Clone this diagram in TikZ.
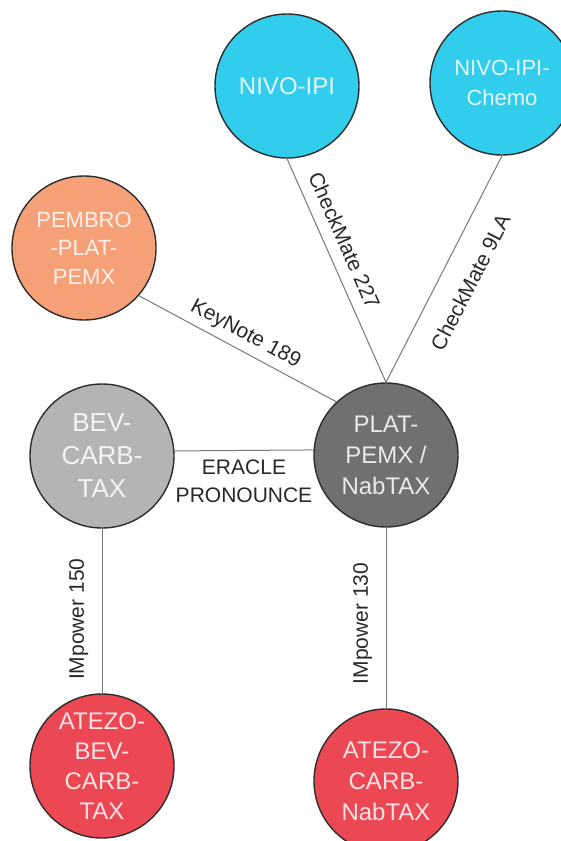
\documentclass[tikz,border=0pt]{standalone}
\usepackage{fontspec}
\setmainfont{Liberation Sans}

\definecolor{nivoblue}{RGB}{50,204,236}
\definecolor{pembroorange}{RGB}{246,160,120}
\definecolor{bevgray}{RGB}{180,180,180}
\definecolor{platgray}{RGB}{112,112,112}
\definecolor{atezored}{RGB}{236,72,84}
\definecolor{edgegray}{RGB}{120,120,120}
\definecolor{rim}{RGB}{45,45,45}
\definecolor{labeltext}{RGB}{40,40,40}

\begin{document}
\begin{tikzpicture}[x=1pt, y=-1pt,
  drug/.style={circle, draw=rim, line width=1.4pt, minimum size=144pt, inner sep=0pt,
    align=center, text=white, text opacity=0.85, font=\fontsize{24}{31}\selectfont},
  trial/.style={draw=edgegray, line width=1pt},
  triallabel/.style={text=labeltext, font=\fontsize{21}{28}\selectfont}]
\useasboundingbox (0,0) rectangle (561,841);

% the regimens
  \node[drug, fill=nivoblue] (nivo) at (287,86) {NIVO-IPI};
  \node[drug, fill=nivoblue, font=\fontsize{22}{30}\selectfont] (nivochemo) at (502,83) {NIVO-IPI-\\Chemo};
  \node[drug, fill=pembroorange, font=\fontsize{22}{28.5}\selectfont] (pembro) at (84,248) {PEMBRO\\-PLAT-\\PEMX};
  \node[drug, fill=bevgray, font=\fontsize{26}{33}\selectfont] (bev) at (102,456) {BEV-\\CARB-\\TAX};
  \node[drug, fill=platgray] (plat) at (386,455) {PLAT-\\PEMX /\\NabTAX};
  \node[drug, fill=atezored, font=\fontsize{24}{30}\selectfont] (atezobev) at (102,766) {ATEZO-\\BEV-\\CARB-\\TAX};
  \node[drug, fill=atezored] (atezocarb) at (386,781) {ATEZO-\\CARB-\\NabTAX};

% the trials
  \draw[trial] (nivo.south) -- node[triallabel, pos=0.4, sloped, above=8pt] {CheckMate 227} (plat.north);
  \draw[trial] (nivochemo.south) -- node[triallabel, pos=0.5, sloped, below=18pt] {CheckMate 9LA} (plat.north);
  \draw[trial] (pembro.-41) -- node[triallabel, pos=0.5, sloped, above=3pt] {KeyNote 189} (plat.133);
  \draw[trial] (bev.4) -- node[triallabel, below=6pt, align=center] {ERACLE\\PRONOUNCE} (plat.176);

  \draw[trial] (bev.south) -- node[triallabel, pos=0.55, rotate=90, above=10pt] {IMpower 150} (atezobev.north);
  \draw[trial] (plat.south) -- node[triallabel, pos=0.53, rotate=90, above=10pt] {IMpower 130} (atezocarb.north);

\end{tikzpicture}
\end{document}
